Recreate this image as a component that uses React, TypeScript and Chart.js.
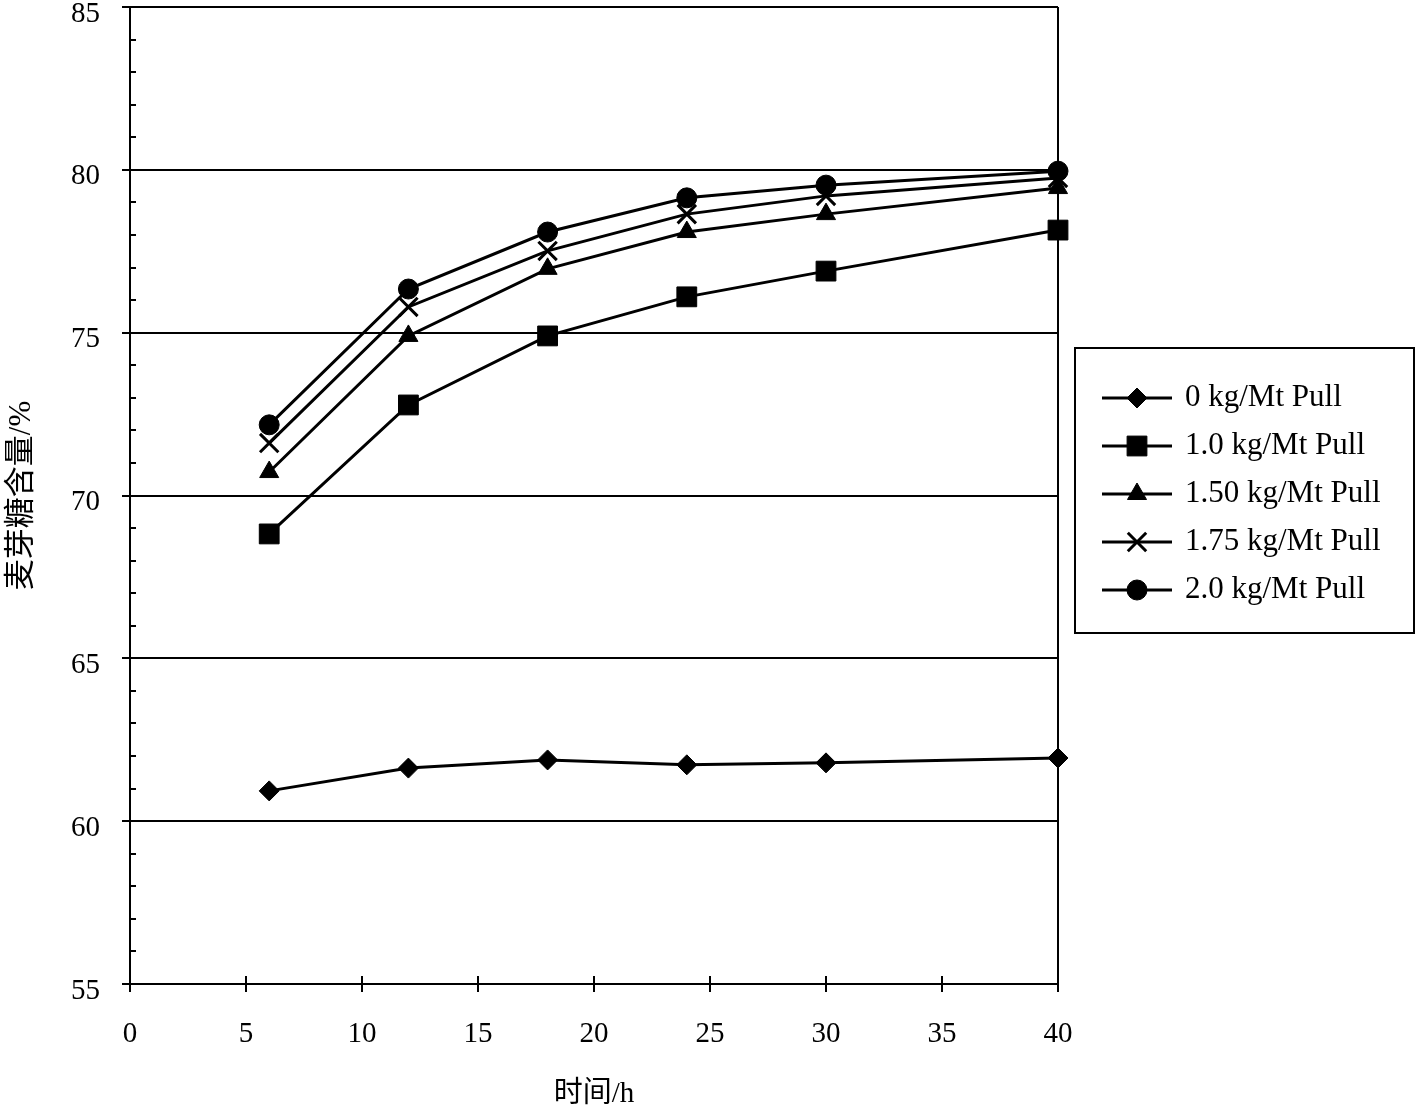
import React, { useEffect, useRef } from "react";
import { Chart, registerables } from "chart.js";
import { drawPoint } from "chart.js/helpers";

Chart.register(...registerables);

// ---- data ----
const hours = [6, 12, 18, 24, 30, 40];
const seriesLabels = [
  "0 kg/Mt Pull",
  "1.0 kg/Mt Pull",
  "1.50 kg/Mt Pull",
  "1.75 kg/Mt Pull",
  "2.0 kg/Mt Pull",
];
const pull0 = [60.93, 61.63, 61.88, 61.73, 61.79, 61.94];
const pull10 = [68.82, 72.78, 74.9, 76.1, 76.89, 78.15];
const pull150 = [70.72, 74.9, 76.96, 78.09, 78.64, 79.44];
const pull175 = [71.61, 75.79, 77.51, 78.64, 79.2, 79.75];
const pull20 = [72.17, 76.34, 78.09, 79.14, 79.53, 79.96];
const seriesValues = [pull0, pull10, pull150, pull175, pull20];
const pointStyles = ["rectRot", "rect", "triangle", "crossRot", "circle"];
const pointRadii = [10, 14, 11, 13, 10];

const xTitle = "时间/h";
const yTitle = "麦芽糖含量/%";
const xMin = 0, xMax = 40, xStep = 5;
const yMin = 55, yMax = 85, yStep = 5, yMinorStep = 1;

const FONT = "'Liberation Serif', 'Times New Roman', 'Noto Sans CJK SC', serif";

const framePlugin = {
  id: "frame",
  beforeDatasetsDraw(chart: any) {
    const { ctx, chartArea: a, scales } = chart;
    const x = scales.x, y = scales.y;
    ctx.save();
    ctx.strokeStyle = "#000";
    ctx.lineWidth = 2;
    ctx.beginPath();
    ctx.moveTo(a.right, a.top);
    ctx.lineTo(a.right, a.bottom);
    for (let v = yMin + yMinorStep; v < yMax; v += yMinorStep) {
      if (v % yStep === 0) continue;
      const py = Math.round(y.getPixelForValue(v));
      ctx.moveTo(a.left, py);
      ctx.lineTo(a.left + 6, py);
    }
    for (const t of x.ticks) {
      const px = x.getPixelForValue(t.value);
      ctx.moveTo(px, a.bottom);
      ctx.lineTo(px, a.bottom - 8);
    }
    ctx.stroke();
    ctx.restore();
  },
  afterDraw(chart: any) {
    const { ctx, chartArea: a } = chart;
    const bx = a.right + 17, by = 348, bw = 339, bh = 285;
    ctx.save();
    ctx.fillStyle = "#fff";
    ctx.fillRect(bx, by, bw, bh);
    ctx.strokeStyle = "#000";
    ctx.lineWidth = 2;
    ctx.strokeRect(bx, by, bw, bh);
    chart.data.datasets.forEach((ds: any, i: number) => {
      const cy = by + 50 + i * 48;
      ctx.strokeStyle = "#000";
      ctx.lineWidth = 3;
      ctx.beginPath();
      ctx.moveTo(bx + 27, cy);
      ctx.lineTo(bx + 97, cy);
      ctx.stroke();
      ctx.fillStyle = "#000";
      ctx.strokeStyle = "#000";
      ctx.lineWidth = ds.pointStyle === "crossRot" ? 3 : 1;
      drawPoint(
        ctx,
        { pointStyle: ds.pointStyle, rotation: 0, radius: ds.pointRadius, borderWidth: ctx.lineWidth },
        bx + 62,
        cy
      );
      ctx.fillStyle = "#000";
      ctx.font = `31px ${FONT}`;
      ctx.textBaseline = "middle";
      ctx.textAlign = "left";
      ctx.fillText(ds.label, bx + 110, cy);
    });
    ctx.restore();
  },
};

export default function App() {
  const ref = useRef<HTMLCanvasElement | null>(null);
  useEffect(() => {
    document.body.style.margin = "0";
    const canvas = ref.current!;
    const datasets = seriesValues.map((vals, i) => ({
      label: seriesLabels[i],
      data: hours.map((h, j) => ({ x: h, y: vals[j] })),
      borderColor: "#000",
      backgroundColor: "#000",
      borderWidth: 3,
      pointStyle: pointStyles[i],
      pointRadius: pointRadii[i],
      pointBackgroundColor: "#000",
      pointBorderColor: "#000",
      pointBorderWidth: pointStyles[i] === "crossRot" ? 3 : 1,
      tension: 0,
      clip: false as any,
    }));
    const chart = new Chart(canvas, {
      type: "line",
      data: { datasets },
      options: {
        responsive: false,
        animation: false,
        devicePixelRatio: 1,
        layout: { autoPadding: false, padding: { top: 7, right: 360, left: 0, bottom: 0 } },
        plugins: { legend: { display: false }, tooltip: { enabled: false } },
        scales: {
          x: {
            type: "linear",
            min: xMin,
            max: xMax,
            ticks: { stepSize: xStep, color: "#000", font: { family: FONT, size: 29 }, padding: 25, maxRotation: 0 },
            grid: { drawOnChartArea: false, color: "#000", lineWidth: 2, tickLength: 8 },
            border: { color: "#000", width: 2 },
            title: { display: true, text: xTitle, color: "#000", font: { family: FONT, size: 29 }, padding: { top: 0, bottom: 0 } },
            afterFit: (s: any) => {
              s.height = 128;
              s.paddingLeft = 0;
              s.paddingRight = 0;
            },
          },
          y: {
            min: yMin,
            max: yMax,
            ticks: { stepSize: yStep, color: "#000", font: { family: FONT, size: 29 }, padding: 22, labelOffset: 7 },
            grid: { color: "#000", lineWidth: 2, tickLength: 8 },
            border: { color: "#000", width: 2 },
            title: { display: true, text: yTitle, color: "#000", font: { family: FONT, size: 31 }, padding: { top: 3, bottom: 0 } },
            afterFit: (s: any) => {
              s.width = 130;
              s.paddingTop = 0;
              s.paddingBottom = 0;
            },
          },
        },
      },
      plugins: [framePlugin],
    });
    return () => chart.destroy();
  }, []);
  return <canvas ref={ref} width={1418} height={1112} style={{ display: "block" }} />;
}
